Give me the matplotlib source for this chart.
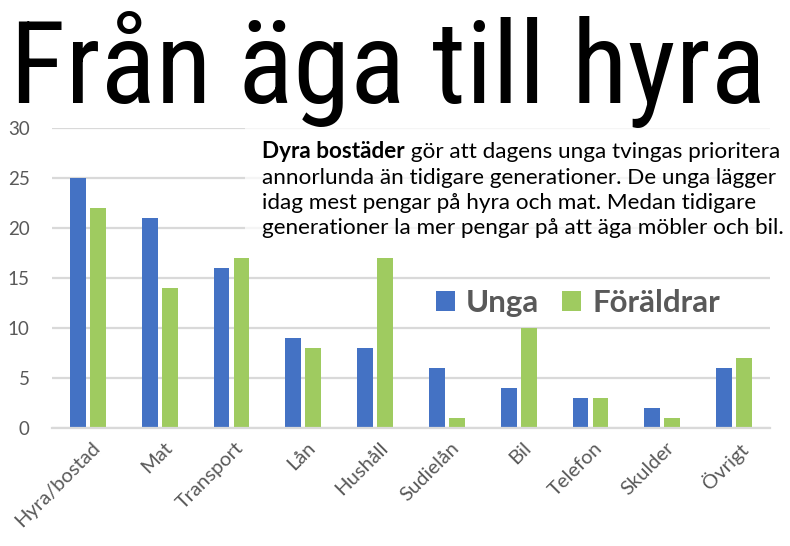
import numpy as np
import matplotlib.pyplot as plt

categories = ['Hyra/bostad', 'Mat', 'Transport', 'Lån', 'Hushåll',
              'Sudielån', 'Bil', 'Telefon', 'Skulder', 'Övrigt']
unga = [25, 21, 16, 9, 8, 6, 4, 3, 2, 6]
foraldrar = [22, 14, 17, 8, 17, 1, 10, 3, 1, 7]
yticks = [0, 5, 10, 15, 20, 25, 30]

title = 'Från äga till hyra'
lead = 'Dyra bostäder'
body = [' gör att dagens unga tvingas prioritera',
        'annorlunda än tidigare generationer. De unga lägger',
        'idag mest pengar på hyra och mat. Medan tidigare',
        'generationer la mer pengar på att äga möbler och bil.']

BLUE = '#4472C4'
GREEN = '#9FCB60'
GREY = '#595959'

plt.rcParams['font.family'] = ['Lato', 'DejaVu Sans']

fig = plt.figure(figsize=(7.9, 5.46), dpi=100)
ax = fig.add_axes([52 / 790, 1 - 428 / 546, 718 / 790, 300 / 546])

x = np.arange(len(categories))
w = 0.22
ax.bar(x - 0.14, unga, w, color=BLUE, label='Unga', zorder=2)
ax.bar(x + 0.14, foraldrar, w, color=GREEN, label='Föräldrar', zorder=2)

ax.set_xlim(-0.5, len(categories) - 0.5)
ax.set_ylim(0, 30)
ax.set_yticks(yticks)
ax.yaxis.grid(True, color='#D9D9D9', linewidth=1.6, zorder=0)
ax.set_axisbelow(True)
for s in ['top', 'right', 'left']:
    ax.spines[s].set_visible(False)
ax.spines['bottom'].set_color('#D9D9D9')
ax.spines['bottom'].set_linewidth(1.6)
ax.tick_params(length=0)
ax.tick_params(axis='y', labelsize=13.5, labelcolor=GREY, pad=16)
ax.set_xticks(x + 0.05)
ax.set_xticklabels(categories, rotation=45, ha='right',
                   rotation_mode='anchor', fontsize=14.5, color=GREY)
ax.tick_params(axis='x', pad=8)

# white panel behind the text, grid lines show through faintly
ax.add_patch(plt.Rectangle((245 / 790, 1 - 250 / 546), 545 / 790, 122 / 546,
                           transform=fig.transFigure, facecolor='white',
                           alpha=0.75, edgecolor='none', zorder=1,
                           clip_on=False))

# title, sized to span the width of the picture
tt = fig.text(388 / 790, 1 - 103 / 546, title, ha='center', va='baseline',
              fontsize=80, color='black', fontweight='normal',
              family=['Roboto Condensed', 'Lato', 'DejaVu Sans'])
fig.canvas.draw()
tw = tt.get_window_extent().width
tt.set_fontsize(80 * 755 / tw)

# text block
fs = 16.2
y0 = 1 - 158 / 546
step = 25.5 / 546
t = fig.text(262 / 790, y0, lead, fontsize=fs, fontweight='bold',
             va='baseline', color='black')
fig.canvas.draw()
bb = t.get_window_extent()
fig.text(bb.x1 / fig.bbox.width, y0, body[0], fontsize=fs, va='baseline',
         color='black')
for i, line in enumerate(body[1:], start=1):
    fig.text(262 / 790, y0 - i * step, line, fontsize=fs, va='baseline',
             color='black')

ax.legend(loc='center', bbox_to_anchor=(578 / 790, 1 - 303 / 546),
          bbox_transform=fig.transFigure, ncol=2, frameon=False,
          prop={'weight': 'bold', 'size': 22.5}, labelcolor=GREY,
          handlelength=0.6, handleheight=0.6, handletextpad=0.35,
          columnspacing=0.75)

fig.savefig('out.png', dpi=100)
